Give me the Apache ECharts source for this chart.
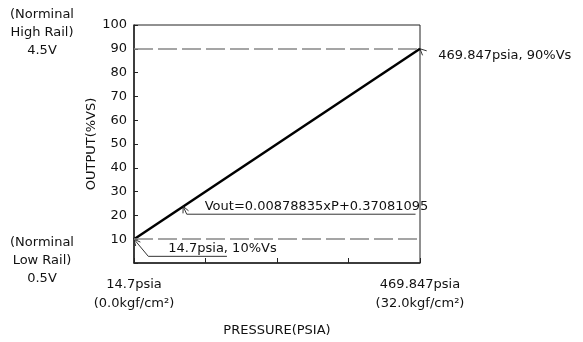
<!DOCTYPE html>
<html>
<head>
<meta charset="utf-8">
<script src="https://cdn.jsdelivr.net/npm/echarts@6/dist/echarts.min.js"></script>
<style>
  html, body { margin: 0; padding: 0; background: #fff; }
  #main { width: 583px; height: 342px; }
</style>
</head>
<body>
<div id="main"></div>
<script>
// pressure in kgf/cm2 (x), output in %VS (y)
const pressureKgf = [0, 32];
const outputPct = [10, 90];
const xTickLabels = { 0: '14.7psia\n(0.0kgf/cm²)', 32: '469.847psia\n(32.0kgf/cm²)' };
const railLevels = [10, 90];

// leader lines for the notes, in data units: [pointer start, elbow, end]
const notes = [
  { text: '469.847psia, 90%Vs', path: [[32, 90], [33.7, 84.1], [48.3, 84.1]], dx: 3 },
  { text: 'Vout=0.00878835xP+0.37081095', path: [[5.5, 23.8], [5.9, 20.5], [31.5, 20.5]], dx: 18 },
  { text: '14.7psia, 10%Vs', path: [[0, 10], [1.6, 2.8], [10.4, 2.8]], dx: 20 }
];

const font = '"DejaVu Sans", Arial, sans-serif';
const chart = echarts.init(document.getElementById('main'));

chart.setOption({
  animation: false,
  grid: { left: 134, right: 163, top: 25, bottom: 79, show: true, borderColor: '#222', borderWidth: 1 },
  xAxis: {
    type: 'value', min: 0, max: 32, interval: 8,
    axisLine: { lineStyle: { color: '#222', width: 1.5 } },
    axisTick: { inside: true, length: 5, lineStyle: { color: '#222' } },
    splitLine: { show: false },
    axisLabel: {
      margin: 12, color: '#111', fontFamily: font, fontSize: 13, lineHeight: 19,
      formatter: v => xTickLabels[v] || ''
    },
    name: 'PRESSURE(PSIA)', nameLocation: 'middle', nameGap: 61,
    nameTextStyle: { color: '#111', fontFamily: font, fontSize: 13 }
  },
  yAxis: {
    type: 'value', min: 0, max: 100, interval: 10,
    axisLine: { show: true, lineStyle: { color: '#222', width: 1.5 } },
    axisTick: { show: true, inside: true, length: 4, lineStyle: { color: '#222' } },
    splitLine: { show: false },
    axisLabel: {
      margin: 7, color: '#111', fontFamily: font, fontSize: 13,
      formatter: v => v === 0 ? '' : v
    },
    name: 'OUTPUT(%VS)', nameLocation: 'middle', nameGap: 36,
    nameTextStyle: { color: '#111', fontFamily: font, fontSize: 13 }
  },
  series: [{
    type: 'line',
    data: pressureKgf.map((p, i) => [p, outputPct[i]]),
    symbol: 'none',
    lineStyle: { color: '#000', width: 2.5 },
    markLine: {
      silent: true, symbol: 'none', label: { show: false },
      lineStyle: { color: '#888', type: [19, 5], width: 1.5 },
      data: railLevels.map(v => ({ yAxis: v }))
    }
  }].concat(notes.map(n => ({
    type: 'line', data: n.path, symbol: 'none', clip: false,
    lineStyle: { color: '#333', width: 1 }
  })))
});

// note texts, arrowheads and the rail captions placed after layout
const px = d => chart.convertToPixel({ gridIndex: 0 }, d);
const g = [];
notes.forEach(n => {
  const a = px(n.path[0]), b = px(n.path[1]), c = px(n.path[2]);
  const ang = Math.atan2(b[1] - a[1], b[0] - a[0]);
  [0.45, -0.45].forEach(d => {
    g.push({ type: 'line', shape: { x1: a[0], y1: a[1], x2: a[0] + 7 * Math.cos(ang + d), y2: a[1] + 7 * Math.sin(ang + d) },
      style: { stroke: '#333', lineWidth: 1 } });
  });
  g.push({ type: 'text', x: b[0] + n.dx, y: c[1] - 1,
    style: { text: n.text, fill: '#111', font: '13px ' + font, textAlign: 'left', textVerticalAlign: 'bottom' } });
});
const railText = ['(Norminal\nHigh Rail)\n4.5V', '(Norminal\nLow Rail)\n0.5V'];
[6, 234].forEach((top, i) => {
  g.push({ type: 'text', x: 42, y: top,
    style: { text: railText[i], fill: '#111', font: '13px ' + font, textAlign: 'center', lineHeight: 18 } });
});
chart.setOption({ graphic: g });
</script>
</body>
</html>
